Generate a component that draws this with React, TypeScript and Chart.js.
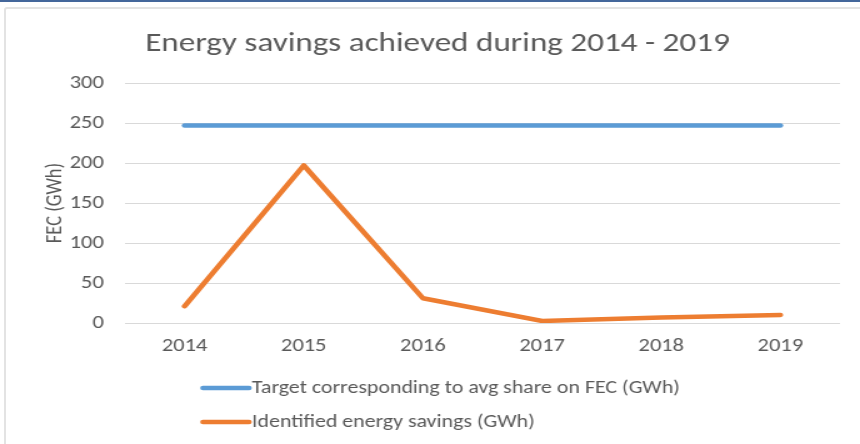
import React, { useEffect, useRef } from "react";
import { Chart, registerables } from "chart.js";

Chart.register(...registerables);

const categories = ["2014", "2015", "2016", "2017", "2018", "2019"];
const targetSeries = [247, 247, 247, 247, 247, 247];
const savingsSeries = [21, 197, 31, 2.5, 7, 10];
const seriesLabels = [
  "Target corresponding to avg share on FEC (GWh)",
  "Identified energy savings (GWh)",
];
const titleText = "Energy savings achieved during 2014 - 2019";
const yAxisTitle = "FEC (GWh)";

const FONT = "Carlito, Calibri, Lato, sans-serif";
const TEXT = "#595959";
// the reference is a horizontally stretched rendering: draw at a narrower
// internal width and let CSS stretch it to 860px
const SX = 1.25;
const INNER_W = Math.round(860 / SX);

const overlayPlugin = {
  id: "overlay",
  afterDraw(chart: any) {
    const ctx = chart.ctx;
    ctx.save();
    ctx.fillStyle = TEXT;
    ctx.font = `26.5px ${FONT}`;
    ctx.textAlign = "center";
    ctx.textBaseline = "alphabetic";
    ctx.fillText(titleText, 437.5 / SX, 51);
    ctx.font = `17.5px ${FONT}`;
    ctx.textAlign = "left";
    ctx.textBaseline = "middle";
    chart.data.datasets.forEach((ds: any, i: number) => {
      const y = 388 + i * 34;
      ctx.strokeStyle = ds.borderColor;
      ctx.lineWidth = 4.5;
      ctx.lineCap = "round";
      ctx.beginPath();
      ctx.moveTo(203 / SX, y);
      ctx.lineTo(249 / SX, y);
      ctx.stroke();
      ctx.fillStyle = TEXT;
      ctx.fillText(ds.label, 252 / SX, y + 1);
    });
    ctx.restore();
  },
};

export default function App() {
  const ref = useRef<HTMLCanvasElement | null>(null);
  useEffect(() => {
    if (!ref.current) return;
    const chart = new Chart(ref.current, {
      type: "line",
      data: {
        labels: categories,
        datasets: [
          {
            label: seriesLabels[0],
            data: targetSeries,
            borderColor: "#5B9BD5",
            backgroundColor: "#5B9BD5",
            borderWidth: 4.5,
            pointRadius: 0,
            borderCapStyle: "round",
            borderJoinStyle: "round",
            tension: 0,
          },
          {
            label: seriesLabels[1],
            data: savingsSeries,
            borderColor: "#ED7D31",
            backgroundColor: "#ED7D31",
            borderWidth: 4.5,
            pointRadius: 0,
            borderCapStyle: "round",
            borderJoinStyle: "round",
            tension: 0,
          },
        ],
      },
      options: {
        responsive: false,
        animation: false,
        devicePixelRatio: 1,
        layout: {
          padding: { left: 0, right: INNER_W - 840 / SX, top: 83, bottom: 81 },
        },
        plugins: {
          legend: { display: false },
          title: { display: false },
          tooltip: { enabled: false },
        },
        scales: {
          x: {
            offset: true,
            grid: { display: false, drawTicks: false },
            border: { display: false },
            ticks: {
              color: TEXT,
              font: { family: FONT, size: 18 },
              padding: 13,
            },
            afterFit(scale: any) {
              scale.height = 40;
            },
          },
          y: {
            min: 0,
            max: 300,
            ticks: {
              stepSize: 50,
              color: TEXT,
              font: { family: FONT, size: 18 },
              padding: 17,
            },
            grid: { color: "#d9d9d9", lineWidth: 1, drawTicks: false },
            border: { display: false },
            title: {
              display: true,
              text: yAxisTitle,
              color: TEXT,
              font: { family: FONT, size: 18.5 },
              padding: { top: 33, bottom: 0 },
            },
            afterFit(scale: any) {
              scale.width = 125 / SX;
            },
          },
        },
      },
      plugins: [overlayPlugin],
    });
    return () => chart.destroy();
  }, []);

  return (
    <div
      style={{
        position: "fixed",
        left: 0,
        top: 0,
        width: 860,
        height: 444,
        background: "#fff",
        overflow: "hidden",
      }}
    >
      <div
        style={{
          position: "absolute",
          left: 0,
          top: 0,
          width: 860,
          height: 2,
          background: "#44679b",
        }}
      />
      <div
        style={{
          position: "absolute",
          left: 4,
          top: 7,
          width: 900,
          height: 500,
          border: "2px solid #e3e3e3",
          borderRadius: 3,
          boxSizing: "border-box",
        }}
      />
      <canvas
        ref={ref}
        width={INNER_W}
        height={444}
        style={{ position: "absolute", left: 0, top: 0, width: 860, height: 444 }}
      />
    </div>
  );
}
